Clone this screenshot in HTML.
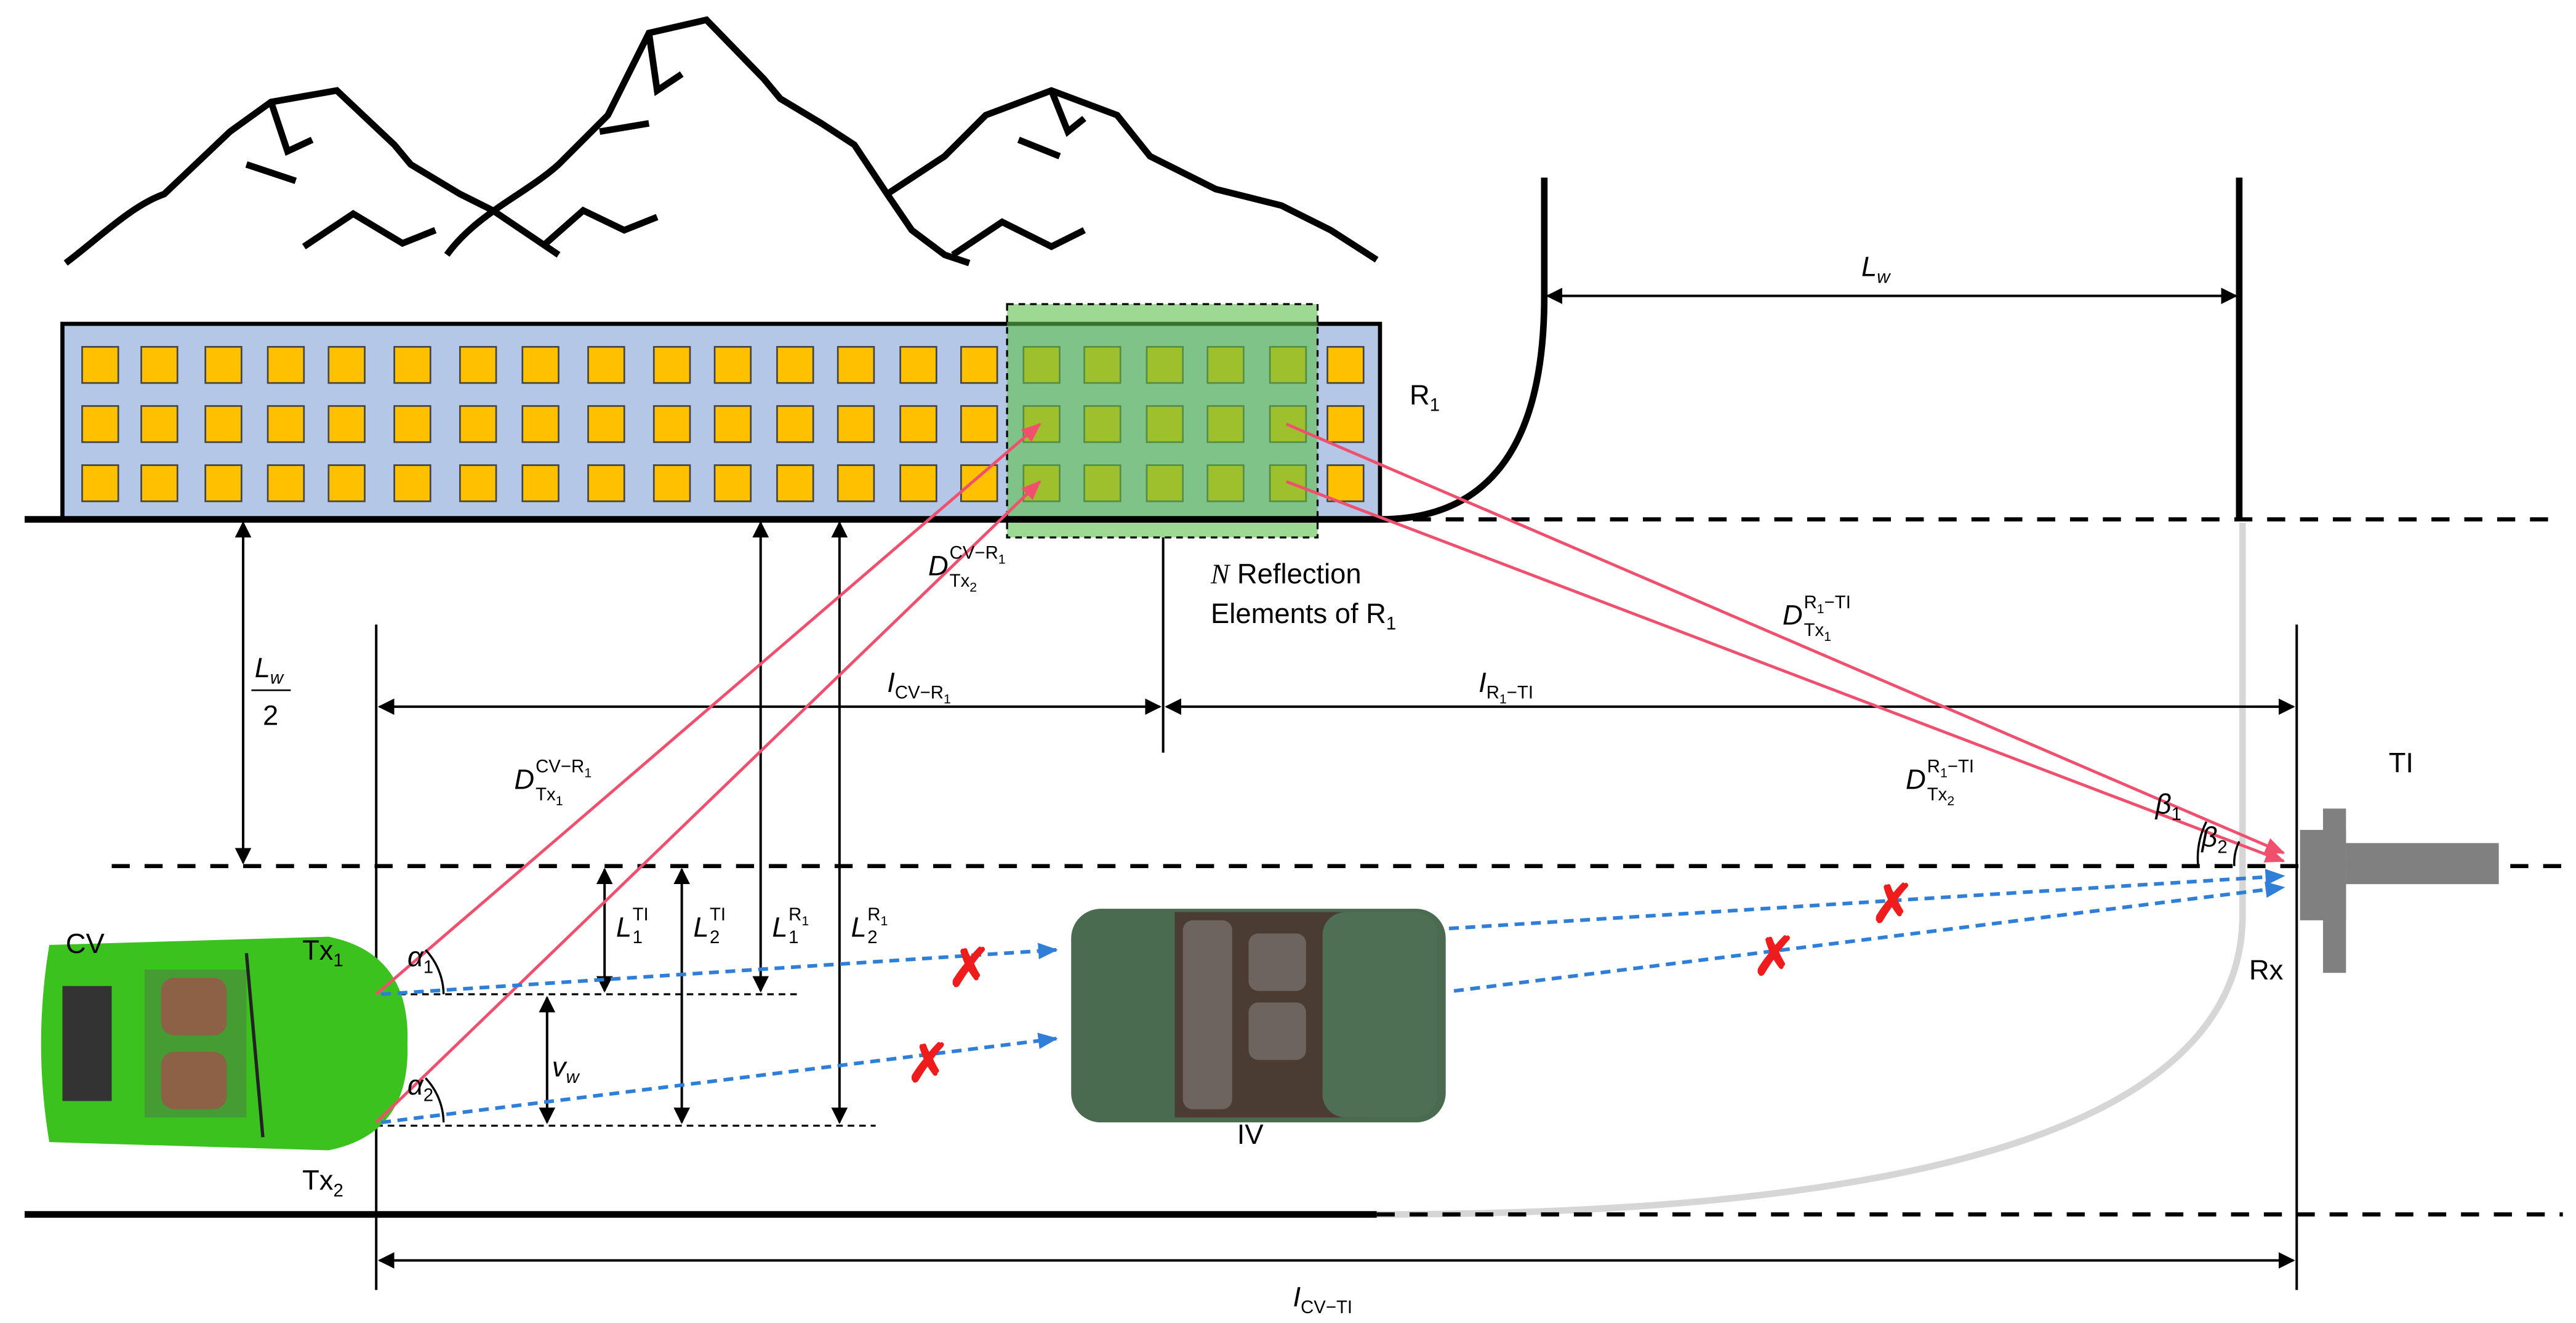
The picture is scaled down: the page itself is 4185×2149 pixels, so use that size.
<!DOCTYPE html>
<html><head><meta charset="utf-8"><style>
html,body{margin:0;padding:0;background:#fff;}
svg{display:block;}
text{font-family:"Liberation Sans",sans-serif;}
.m{font-family:"Liberation Serif",serif;}
</style></head><body>
<svg width="4185" height="2149" viewBox="0 0 1568 805" xmlns="http://www.w3.org/2000/svg">
<defs>
<marker id="ak" markerWidth="10" markerHeight="10" refX="9" refY="5" orient="auto-start-reverse" markerUnits="userSpaceOnUse"><path d="M0,0 L10,5 L0,10 z" fill="#000"/></marker>
<marker id="ar" markerWidth="12" markerHeight="10" refX="11" refY="5" orient="auto" markerUnits="userSpaceOnUse"><path d="M0,0 L12,5 L0,10 z" fill="#f0506e"/></marker>
<marker id="ab" markerWidth="12" markerHeight="10" refX="11" refY="5" orient="auto" markerUnits="userSpaceOnUse"><path d="M0,0 L12,5 L0,10 z" fill="#2f7fd8"/></marker>
</defs>
<g fill="none" stroke="#000" stroke-width="4" stroke-linejoin="miter">
<path d="M40,160 C60,145 80,125 100,118 L140,80 L165,62 L205,55 L240,88 L250,100 L280,118 L300,128 L340,155"/>
<path d="M165,62 L175,92 L190,85 M150,100 L180,110"/>
<path d="M185,150 L215,130 L245,148 L265,140"/>
<path d="M272,155 C290,130 320,118 340,100 L370,70 L395,20 L430,12 L465,48 L475,60 L500,75 L520,88 L540,118 L555,140 L575,155 L590,160"/>
<path d="M395,20 L400,55 L415,45 M365,80 L395,75"/>
<path d="M330,150 L355,128 L380,140 L400,132"/>
<path d="M540,118 L575,95 L600,70 L640,55 L680,70 L700,95 L740,115 L780,125 L810,140 L838,158"/>
<path d="M640,55 L650,80 L660,72 M620,85 L645,95"/>
<path d="M580,155 L610,135 L640,150 L660,140"/>
</g>
<rect x="38" y="197" width="802" height="119" fill="#b4c7e7" stroke="#000" stroke-width="2.5"/>
<g fill="#ffc000" stroke="#444" stroke-width="1">
<rect x="50" y="211" width="22" height="22"/><rect x="50" y="247" width="22" height="22"/><rect x="50" y="283" width="22" height="22"/>
<rect x="86" y="211" width="22" height="22"/><rect x="86" y="247" width="22" height="22"/><rect x="86" y="283" width="22" height="22"/>
<rect x="125" y="211" width="22" height="22"/><rect x="125" y="247" width="22" height="22"/><rect x="125" y="283" width="22" height="22"/>
<rect x="163" y="211" width="22" height="22"/><rect x="163" y="247" width="22" height="22"/><rect x="163" y="283" width="22" height="22"/>
<rect x="200" y="211" width="22" height="22"/><rect x="200" y="247" width="22" height="22"/><rect x="200" y="283" width="22" height="22"/>
<rect x="240" y="211" width="22" height="22"/><rect x="240" y="247" width="22" height="22"/><rect x="240" y="283" width="22" height="22"/>
<rect x="280" y="211" width="22" height="22"/><rect x="280" y="247" width="22" height="22"/><rect x="280" y="283" width="22" height="22"/>
<rect x="318" y="211" width="22" height="22"/><rect x="318" y="247" width="22" height="22"/><rect x="318" y="283" width="22" height="22"/>
<rect x="358" y="211" width="22" height="22"/><rect x="358" y="247" width="22" height="22"/><rect x="358" y="283" width="22" height="22"/>
<rect x="398" y="211" width="22" height="22"/><rect x="398" y="247" width="22" height="22"/><rect x="398" y="283" width="22" height="22"/>
<rect x="435" y="211" width="22" height="22"/><rect x="435" y="247" width="22" height="22"/><rect x="435" y="283" width="22" height="22"/>
<rect x="473" y="211" width="22" height="22"/><rect x="473" y="247" width="22" height="22"/><rect x="473" y="283" width="22" height="22"/>
<rect x="510" y="211" width="22" height="22"/><rect x="510" y="247" width="22" height="22"/><rect x="510" y="283" width="22" height="22"/>
<rect x="548" y="211" width="22" height="22"/><rect x="548" y="247" width="22" height="22"/><rect x="548" y="283" width="22" height="22"/>
<rect x="585" y="211" width="22" height="22"/><rect x="585" y="247" width="22" height="22"/><rect x="585" y="283" width="22" height="22"/>
<rect x="623" y="211" width="22" height="22"/><rect x="623" y="247" width="22" height="22"/><rect x="623" y="283" width="22" height="22"/>
<rect x="660" y="211" width="22" height="22"/><rect x="660" y="247" width="22" height="22"/><rect x="660" y="283" width="22" height="22"/>
<rect x="698" y="211" width="22" height="22"/><rect x="698" y="247" width="22" height="22"/><rect x="698" y="283" width="22" height="22"/>
<rect x="735" y="211" width="22" height="22"/><rect x="735" y="247" width="22" height="22"/><rect x="735" y="283" width="22" height="22"/>
<rect x="773" y="211" width="22" height="22"/><rect x="773" y="247" width="22" height="22"/><rect x="773" y="283" width="22" height="22"/>
<rect x="808" y="211" width="22" height="22"/><rect x="808" y="247" width="22" height="22"/><rect x="808" y="283" width="22" height="22"/>
</g>
<rect x="613" y="185" width="189" height="142" fill="#5cbf4a" fill-opacity="0.6" stroke="#000" stroke-width="1.2" stroke-dasharray="4,3"/>
<path d="M940,108 L940,180 Q940,316 840,316" fill="none" stroke="#000" stroke-width="4"/>
<line x1="1363" y1="108" x2="1363" y2="316" stroke="#000" stroke-width="4"/>
<line x1="942" y1="180" x2="1361" y2="180" stroke="#000" stroke-width="1.5" marker-start="url(#ak)" marker-end="url(#ak)"/>
<path d="M1365,318 L1365,560 Q1360,739 838,739" fill="none" stroke="#d6d6d6" stroke-width="4"/>
<line x1="15" y1="316" x2="840" y2="316" stroke="#000" stroke-width="4"/>
<line x1="840" y1="316" x2="1560" y2="316" stroke="#000" stroke-width="2.5" stroke-dasharray="11,9"/>
<line x1="68" y1="527" x2="1560" y2="527" stroke="#000" stroke-width="2.5" stroke-dasharray="11,9"/>
<line x1="15" y1="739" x2="838" y2="739" stroke="#000" stroke-width="4"/>
<line x1="838" y1="739" x2="1560" y2="739" stroke="#000" stroke-width="2.5" stroke-dasharray="11,9"/>
<g stroke="#000" stroke-width="1.5">
<line x1="229" y1="380" x2="229" y2="785"/>
<line x1="1398" y1="380" x2="1398" y2="785"/>
<line x1="708" y1="327" x2="708" y2="458"/>
<line x1="231" y1="430" x2="706" y2="430" marker-start="url(#ak)" marker-end="url(#ak)"/>
<line x1="710" y1="430" x2="1396" y2="430" marker-start="url(#ak)" marker-end="url(#ak)"/>
<line x1="231" y1="767" x2="1396" y2="767" marker-start="url(#ak)" marker-end="url(#ak)"/>
<line x1="148" y1="318" x2="148" y2="525" marker-start="url(#ak)" marker-end="url(#ak)"/>
<line x1="368" y1="529" x2="368" y2="603" marker-start="url(#ak)" marker-end="url(#ak)"/>
<line x1="415" y1="529" x2="415" y2="683" marker-start="url(#ak)" marker-end="url(#ak)"/>
<line x1="463" y1="318" x2="463" y2="603" marker-start="url(#ak)" marker-end="url(#ak)"/>
<line x1="511" y1="318" x2="511" y2="683" marker-start="url(#ak)" marker-end="url(#ak)"/>
<line x1="333" y1="607" x2="333" y2="683" marker-start="url(#ak)" marker-end="url(#ak)"/>
<line x1="229" y1="605" x2="485" y2="605" stroke-dasharray="4,3" stroke-width="1.2"/>
<line x1="229" y1="685" x2="533" y2="685" stroke-dasharray="4,3" stroke-width="1.2"/>
</g>
<g fill="#808080">
<rect x="1414" y="492" width="14" height="100"/>
<rect x="1400" y="505" width="28" height="55"/>
<rect x="1428" y="513" width="93" height="25"/>
</g>
<g>
<path d="M30,575 Q20,635 30,695 L200,700 Q250,690 248,635 Q250,580 200,570 Z" fill="#3cc21f"/>
<rect x="38" y="600" width="30" height="70" fill="#333"/>
<rect x="98" y="595" width="40" height="35" rx="8" fill="#a9683c"/>
<rect x="98" y="640" width="40" height="35" rx="8" fill="#a9683c"/>
<rect x="88" y="590" width="62" height="90" fill="#555" fill-opacity="0.35"/>
<path d="M150,580 L160,692" stroke="#222" stroke-width="2" fill="none"/>
</g>
<g>
<rect x="652" y="553" width="228" height="130" rx="18" fill="#4a6b50"/>
<rect x="715" y="555" width="118" height="125" fill="#4a3c33"/>
<rect x="760" y="568" width="35" height="35" rx="6" fill="#6d6460"/>
<rect x="760" y="610" width="35" height="35" rx="6" fill="#6d6460"/>
<rect x="720" y="560" width="30" height="115" rx="6" fill="#6d6460"/>
<rect x="805" y="555" width="70" height="125" rx="14" fill="#4e6f54"/>
</g>
<g stroke="#f0506e" stroke-width="1.8" fill="none">
<line x1="229" y1="605" x2="633" y2="258" marker-end="url(#ar)"/>
<line x1="229" y1="683" x2="633" y2="293" marker-end="url(#ar)"/>
<line x1="783" y1="258" x2="1390" y2="519" marker-end="url(#ar)"/>
<line x1="783" y1="293" x2="1390" y2="524" marker-end="url(#ar)"/>
</g>
<g stroke="#2f7fd8" stroke-width="2.2" stroke-dasharray="6,4" fill="none">
<line x1="232" y1="605" x2="643" y2="578" marker-end="url(#ab)"/>
<line x1="232" y1="683" x2="643" y2="632" marker-end="url(#ab)"/>
<line x1="882" y1="565" x2="1390" y2="533" marker-end="url(#ab)"/>
<line x1="885" y1="603" x2="1390" y2="540" marker-end="url(#ab)"/>
</g>
<g fill="#ee1c1c" font-size="32" font-weight="bold" text-anchor="middle">
<text x="590" y="600">✗</text><text x="565" y="658">✗</text><text x="1152" y="561">✗</text><text x="1080" y="593">✗</text>
</g>
<g fill="none" stroke="#000" stroke-width="1.3">
<path d="M270,605 A40,40 0 0 0 259,578"/>
<path d="M270,683 A40,40 0 0 0 259,656"/>
<path d="M1338,527 A50,50 0 0 1 1343,500"/>
<path d="M1360,527 A30,30 0 0 1 1363,512"/>
</g>
<g font-size="17" fill="#000">
<text x="858" y="246">R<tspan font-size="11" dy="4">1</tspan></text>
<text x="1454" y="470">TI</text>
<text x="1369" y="596">Rx</text>
<text x="40" y="580">CV</text>
<text x="184" y="584">Tx<tspan font-size="11" dy="4">1</tspan></text>
<text x="184" y="724">Tx<tspan font-size="11" dy="4">2</tspan></text>
<text x="753" y="696">IV</text>
<text x="737" y="355"><tspan class="m" font-style="italic">N</tspan> Reflection</text>
<text x="737" y="379">Elements of R<tspan font-size="11" dy="4">1</tspan></text>
</g>
<g class="m" font-size="17" fill="#000" font-style="italic">
<text x="1133" y="168">L<tspan font-size="11" dy="4">w</tspan></text>
<text x="155" y="412">L<tspan font-size="11" dy="4">w</tspan></text>
<line x1="153" y1="420" x2="177" y2="420" stroke="#000" stroke-width="1"/>
<text x="160" y="441" font-style="normal">2</text>
<text x="540" y="421">I<tspan font-size="11" dy="4" font-style="normal">CV−R<tspan font-size="8" dy="3">1</tspan></tspan></text>
<text x="900" y="421">I<tspan font-size="11" dy="4" font-style="normal">R<tspan font-size="8" dy="3">1</tspan><tspan dy="-3">−TI</tspan></tspan></text>
<text x="787" y="795">I<tspan font-size="11" dy="4" font-style="normal">CV−TI</tspan></text>
</g>
<g class="m" fill="#000">
<text x="565" y="350" font-size="17" font-style="italic">D</text>
<text x="578" y="357" font-size="11">Tx<tspan font-size="8" dy="3">2</tspan></text>
<text x="578" y="340" font-size="11">CV−R<tspan font-size="8" dy="3">1</tspan></text>
<text x="313" y="480" font-size="17" font-style="italic">D</text>
<text x="326" y="487" font-size="11">Tx<tspan font-size="8" dy="3">1</tspan></text>
<text x="326" y="470" font-size="11">CV−R<tspan font-size="8" dy="3">1</tspan></text>
<text x="1085" y="380" font-size="17" font-style="italic">D</text>
<text x="1098" y="387" font-size="11">Tx<tspan font-size="8" dy="3">1</tspan></text>
<text x="1098" y="370" font-size="11">R<tspan font-size="8" dy="3">1</tspan><tspan dy="-3">−TI</tspan></text>
<text x="1160" y="480" font-size="17" font-style="italic">D</text>
<text x="1173" y="487" font-size="11">Tx<tspan font-size="8" dy="3">2</tspan></text>
<text x="1173" y="470" font-size="11">R<tspan font-size="8" dy="3">1</tspan><tspan dy="-3">−TI</tspan></text>
<text x="375" y="570" font-size="17" font-style="italic">L</text><text x="385" y="574" font-size="11">1</text><text x="385" y="560" font-size="11">TI</text>
<text x="422" y="570" font-size="17" font-style="italic">L</text><text x="432" y="574" font-size="11">2</text><text x="432" y="560" font-size="11">TI</text>
<text x="470" y="570" font-size="17" font-style="italic">L</text><text x="480" y="574" font-size="11">1</text><text x="480" y="560" font-size="11">R<tspan font-size="8" dy="3">1</tspan></text>
<text x="518" y="570" font-size="17" font-style="italic">L</text><text x="528" y="574" font-size="11">2</text><text x="528" y="560" font-size="11">R<tspan font-size="8" dy="3">1</tspan></text>
<text x="336" y="655" font-size="17" font-style="italic">v<tspan font-size="11" dy="4">w</tspan></text>
<text x="248" y="588" font-size="17" font-style="italic">α<tspan font-size="11" dy="4" font-style="normal">1</tspan></text>
<text x="248" y="666" font-size="17" font-style="italic">α<tspan font-size="11" dy="4" font-style="normal">2</tspan></text>
<text x="1312" y="495" font-size="17" font-style="italic">β<tspan font-size="11" dy="4" font-style="normal">1</tspan></text>
<text x="1340" y="515" font-size="17" font-style="italic">β<tspan font-size="11" dy="4" font-style="normal">2</tspan></text>
</g>
</svg>
</body></html>
